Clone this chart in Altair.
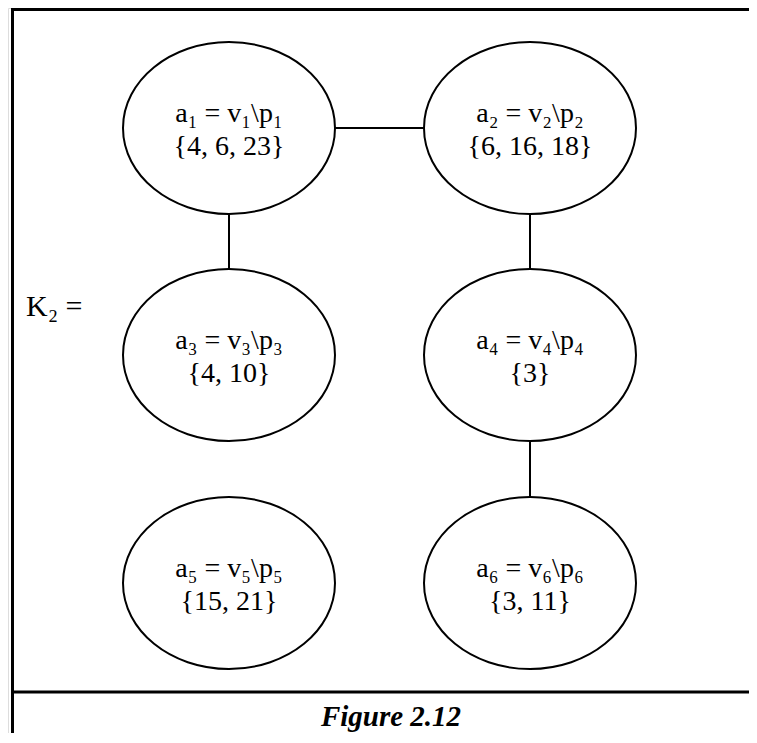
import altair as alt
import pandas as pd

# ---- diagram content -------------------------------------------------
node_names = ["a₁ = v₁\\p₁", "a₂ = v₂\\p₂", "a₃ = v₃\\p₃",
              "a₄ = v₄\\p₄", "a₅ = v₅\\p₅", "a₆ = v₆\\p₆"]
node_sets = ["{4, 6, 23}", "{6, 16, 18}", "{4, 10}", "{3}", "{15, 21}", "{3, 11}"]
node_col = [0, 1, 0, 1, 0, 1]
node_row = [0, 0, 1, 1, 2, 2]

edge_from = [0, 0, 1, 3]
edge_to = [1, 2, 3, 5]

graph_label = "K₂ ="
caption = "Figure 2.12"

# ---- layout (page pixel coordinates) ---------------------------------
col_x = [229, 530]
row_y = [128, 355, 583]
RX, RY = 106, 86

W, H = 741, 725
X0, Y0 = 8, 8

nodes = pd.DataFrame({
    "name": node_names,
    "set": node_sets,
    "x": [col_x[c] for c in node_col],
    "y": [row_y[r] for r in node_row],
})
edges = pd.DataFrame({
    "x": [nodes.x[a] for a in edge_from],
    "y": [nodes.y[a] for a in edge_from],
    "x2": [nodes.x[b] for b in edge_to],
    "y2": [nodes.y[b] for b in edge_to],
})
frame = pd.DataFrame({
    "x": [11, 12.5, 12.5],
    "y": [9.5, 9.5, 692],
    "x2": [757, 12.5, 757],
    "y2": [9.5, 743, 692],
})

xs = alt.Scale(domain=[X0, X0 + W], nice=False, zero=False)
ys = alt.Scale(domain=[Y0, Y0 + H], nice=False, zero=False, reverse=True)
X = lambda f="x": alt.X(f"{f}:Q", scale=xs, axis=None)
Y = lambda f="y": alt.Y(f"{f}:Q", scale=ys, axis=None)

k = 0.5523
r = RY / RX
a = r * k
ellipse_path = (
    f"M -1 0 C -1 {-a:.4f} {-k} {-r:.4f} 0 {-r:.4f} "
    f"C {k} {-r:.4f} 1 {-a:.4f} 1 0 "
    f"C 1 {a:.4f} {k} {r:.4f} 0 {r:.4f} "
    f"C {-k} {r:.4f} -1 {a:.4f} -1 0 Z"
)

FONT = "Liberation Serif"

frame_layer = alt.Chart(frame).mark_rule(color="black", strokeWidth=3, clip=False).encode(
    x=X(), y=Y(), x2="x2:Q", y2="y2:Q")

edge_layer = alt.Chart(edges).mark_rule(color="black", strokeWidth=2).encode(
    x=X(), y=Y(), x2="x2:Q", y2="y2:Q")

node_layer = alt.Chart(nodes).mark_point(
    shape=ellipse_path, size=(2 * RX) ** 2, filled=False, fill="white",
    fillOpacity=1, stroke="black", strokeWidth=2, opacity=1,
).encode(x=X(), y=Y())

name_layer = alt.Chart(nodes).mark_text(
    font=FONT, fontSize=28, color="black", baseline="alphabetic", dy=-6
).encode(x=X(), y=Y(), text="name:N")

set_layer = alt.Chart(nodes).mark_text(
    font=FONT, fontSize=28, color="black", baseline="alphabetic", dy=27
).encode(x=X(), y=Y(), text="set:N")

label_df = pd.DataFrame({"x": [26], "y": [316], "t": [graph_label]})
label_layer = alt.Chart(label_df).mark_text(
    font=FONT, fontSize=30, color="black", baseline="alphabetic", align="left"
).encode(x=X(), y=Y(), text="t:N")

cap_df = pd.DataFrame({"x": [391], "y": [726], "t": [caption]})
cap_layer = alt.Chart(cap_df).mark_text(
    font=FONT, fontSize=29, fontStyle="italic", fontWeight="bold",
    color="black", baseline="alphabetic", align="center"
).encode(x=X(), y=Y(), text="t:N")

chart = alt.layer(
    frame_layer, edge_layer, node_layer, name_layer, set_layer, label_layer, cap_layer
).properties(
    width=W, height=H,
    autosize=alt.AutoSizeParams(type="none"),
    padding=0,
).configure_view(stroke=None).configure(background="white")

chart.save("out.html", embed_options={"renderer": "svg", "actions": False})
